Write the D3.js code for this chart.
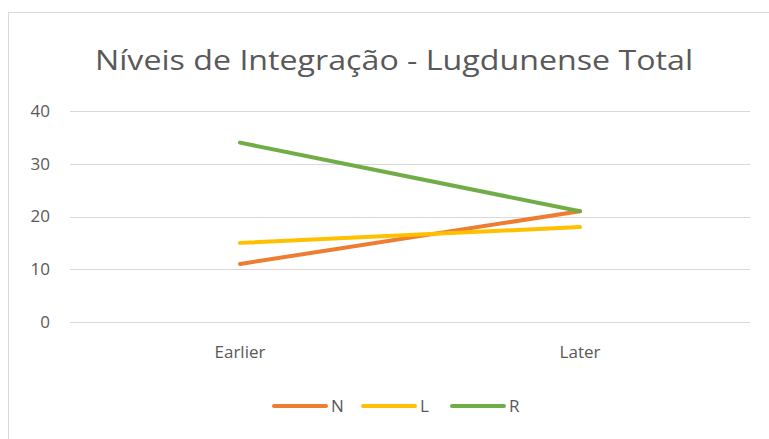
<!DOCTYPE html>
<meta charset="utf-8">
<style>
    body { margin: 0; background: #fff; }
    text { font-family: "Open Sans", "Noto Sans", sans-serif; fill: #595959; }
</style>
<body>
<svg></svg>
</body>
<script src="https://d3js.org/d3.v7.min.js"></script>
<script>
    var categories = ["Earlier", "Later"];
    var seriesNames = ["N", "L", "R"];
    var seriesColors = ["#ED7D31", "#FFC000", "#70AD47"];
    var valuesN = [11, 21];
    var valuesL = [15, 18];
    var valuesR = [34, 21];
    var yTicks = [0, 10, 20, 30, 40];

    var width = 769, height = 439;
    var margin = {top: 111, right: 19, bottom: 117, left: 70};

    var svg = d3.select("svg")
        .attr("width", width)
        .attr("height", height);

    // chart area border
    svg.append("rect")
        .attr("x", 8.5).attr("y", 12.5)
        .attr("width", 780).attr("height", 440)
        .attr("fill", "#fff")
        .attr("stroke", "#d9d9d9");

    svg.append("text")
        .attr("x", 394).attr("y", 70)
        .attr("text-anchor", "middle")
        .style("font-size", "28px")
        .attr("textLength", 598)
        .attr("lengthAdjust", "spacingAndGlyphs")
        .text("Níveis de Integração - Lugdunense Total");

    var x = d3.scaleBand()
        .domain(categories)
        .range([margin.left, width - margin.right]);

    var y = d3.scaleLinear()
        .domain([0, 40])
        .range([height - margin.bottom, margin.top]);

    // gridlines
    svg.append("g")
        .selectAll("line")
        .data(yTicks)
        .enter().append("line")
        .attr("x1", margin.left)
        .attr("x2", width - margin.right)
        .attr("y1", function (d) { return Math.round(y(d)) + 0.5; })
        .attr("y2", function (d) { return Math.round(y(d)) + 0.5; })
        .attr("stroke", "#d9d9d9");

    svg.append("g")
        .selectAll("text")
        .data(yTicks)
        .enter().append("text")
        .attr("x", 50)
        .attr("y", function (d) { return y(d); })
        .attr("dy", "0.35em")
        .attr("text-anchor", "end")
        .style("font-size", "17px")
        .text(function (d) { return d; });

    svg.append("g")
        .selectAll("text")
        .data(categories)
        .enter().append("text")
        .attr("x", function (d) { return x(d) + x.bandwidth() / 2; })
        .attr("y", 358)
        .attr("text-anchor", "middle")
        .style("font-size", "17px")
        .text(function (d) { return d; });

    var series = [valuesN, valuesL, valuesR];
    var line = d3.line()
        .x(function (d, i) { return x(categories[i]) + x.bandwidth() / 2; })
        .y(function (d) { return y(d); });

    svg.append("g")
        .selectAll("path")
        .data(series)
        .enter().append("path")
        .attr("d", line)
        .attr("fill", "none")
        .attr("stroke", function (d, i) { return seriesColors[i]; })
        .attr("stroke-width", 4)
        .attr("stroke-linecap", "round")
        .attr("stroke-linejoin", "round");

    // legend
    var legend = svg.append("g")
        .selectAll("g")
        .data(seriesNames)
        .enter().append("g")
        .attr("transform", function (d, i) { return "translate(" + (274 + i * 89) + ",406)"; });

    legend.append("line")
        .attr("x1", 0).attr("x2", 52)
        .attr("stroke", function (d, i) { return seriesColors[i]; })
        .attr("stroke-width", 4)
        .attr("stroke-linecap", "round");

    legend.append("text")
        .attr("x", 57)
        .attr("dy", "0.35em")
        .style("font-size", "17px")
        .text(function (d) { return d; });
</script>
</html>
